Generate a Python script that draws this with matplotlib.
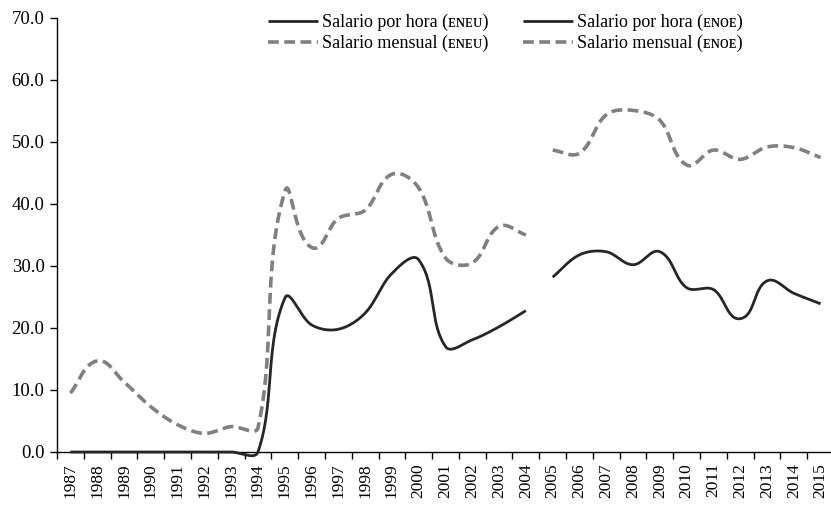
import numpy as np
import matplotlib
matplotlib.use('Agg')
import matplotlib.pyplot as plt

plt.rcParams['font.family'] = ['Liberation Serif', 'DejaVu Serif']

# datos
years = list(range(1987, 2016))
years_eneu = list(range(1987, 2005))
years_enoe = list(range(2005, 2016))

hora_eneu = [0.0, 0.0, 0.0, 0.0, 0.0, 0.0, 0.0, 0.0, 24.8, 20.5, 19.8, 22.4,
             28.8, 31.0, 17.0, 18.1, 20.2, 22.8]
mensual_eneu = [9.5, 14.7, 11.3, 7.3, 4.4, 3.0, 4.1, 3.9, 42.0, 33.0, 37.7, 39.0,
                44.8, 42.6, 31.3, 30.5, 36.4, 35.0]
hora_enoe = [28.2, 31.8, 32.3, 30.2, 32.3, 26.5, 26.2, 21.5, 27.6, 25.6, 23.9]
mensual_enoe = [48.7, 48.2, 54.4, 55.1, 53.5, 46.3, 48.7, 47.2, 49.2, 49.1, 47.5]

labels = ['Salario por hora (ᴇɴᴇᴜ)', 'Salario mensual (ᴇɴᴇᴜ)',
          'Salario por hora (ᴇɴᴏᴇ)', 'Salario mensual (ᴇɴᴏᴇ)']

# escala aprox. en pixeles por unidad (x: categoria, y: valor)
SX, SY = 26.8, 6.2


def smooth(xs, ys, n=30):
    # curva suavizada tipo Excel: bezier con tangentes proporcionales a la distancia
    p = np.column_stack([xs, ys]).astype(float)
    sc = np.array([SX, SY])
    d = lambda a, b: np.hypot(*((a - b) * sc))
    out = []
    for i in range(len(p) - 1):
        p0 = p[max(i - 1, 0)]
        p1 = p[i]
        p2 = p[i + 1]
        p3 = p[min(i + 2, len(p) - 1)]
        d12 = d(p1, p2)
        d02 = d(p0, p2)
        d13 = d(p1, p3)
        c1 = p1 + (p2 - p0) * (d12 / d02 / 3 if d02 > 0 else 0)
        c2 = p2 - (p3 - p1) * (d12 / d13 / 3 if d13 > 0 else 0)
        t = np.linspace(0, 1, n)[:, None]
        seg = (1 - t)**3 * p1 + 3 * (1 - t)**2 * t * c1 + 3 * (1 - t) * t**2 * c2 + t**3 * p2
        out.append(seg if i == 0 else seg[1:])
    out = np.vstack(out)
    return out[:, 0], out[:, 1]


def pos(yrs):
    return [years.index(y) for y in yrs]


fig = plt.figure(figsize=(8.31, 5.09), dpi=100)
ax = fig.add_axes([57 / 831, 57 / 509, 777 / 831, 434 / 509])

dark = '#262626'
grey = '#808080'
solid = dict(color=dark, lw=2.0, solid_capstyle='butt', clip_on=False)
dashed = dict(color=grey, lw=2.6, linestyle=(0, (3.0, 1.5)), dash_capstyle='butt',
              clip_on=False)

x, y = smooth(pos(years_eneu), hora_eneu)
l1, = ax.plot(x, y, **solid)
x, y = smooth(pos(years_eneu), mensual_eneu)
l2, = ax.plot(x, y, **dashed)
x, y = smooth(pos(years_enoe), hora_enoe)
l3, = ax.plot(x, y, **solid)
x, y = smooth(pos(years_enoe), mensual_enoe)
l4, = ax.plot(x, y, **dashed)

ax.set_xlim(-0.5, len(years) - 0.5)
ax.set_ylim(0, 70)
ax.set_yticks(np.arange(0, 71, 10))
ax.set_yticklabels(['%.1f' % v for v in np.arange(0, 71, 10)])

ax.set_xticks(np.arange(len(years) + 1) - 0.5)
ax.set_xticklabels([])
ax.set_xticks(np.arange(len(years)), minor=True)
ax.set_xticklabels([str(y) for y in years], minor=True, rotation=90)
ax.tick_params(axis='x', which='major', length=5, width=1, direction='out')
ax.tick_params(axis='x', which='minor', length=0, pad=8, labelsize=12.5)
ax.tick_params(axis='y', length=5, width=1, labelsize=13.5, pad=4)

for s in ['top', 'right']:
    ax.spines[s].set_visible(False)
ax.spines['left'].set_linewidth(1)
ax.spines['bottom'].set_linewidth(1)
ax.spines['bottom'].set_zorder(0)

fig.legend([l1, l2, l3, l4], labels, ncol=2, frameon=False,
           loc='upper left', bbox_to_anchor=(252 / 831, 1.005),
           fontsize=13, handlelength=2.75, handletextpad=0.25,
           columnspacing=1.9, labelspacing=0.22)

fig.savefig('out.png', dpi=100)
